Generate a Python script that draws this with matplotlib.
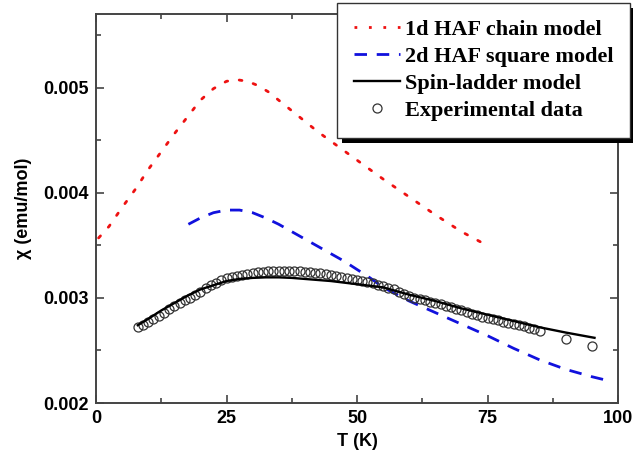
import matplotlib
matplotlib.use("Agg")
import matplotlib.pyplot as plt
from matplotlib.patches import Rectangle
from matplotlib.lines import Line2D

# ---- data ----
chain_T = [0.5, 2.5, 5, 7.5, 10, 12.5, 15, 17.5, 20, 22.5, 25, 27, 29, 31, 33, 35,
           37.5, 40, 42.5, 45, 47.5, 50, 55, 60, 65, 70, 74.5]
chain_chi = [0.00357, 0.00368, 0.00386, 0.00403, 0.00422, 0.00439, 0.00456, 0.00472,
             0.00488, 0.00499, 0.00506, 0.005075, 0.00506, 0.00502, 0.00496, 0.00488,
             0.00478, 0.00468, 0.00458, 0.00449, 0.00440, 0.00431, 0.00413, 0.00396,
             0.00379, 0.00363, 0.00351]

square_T = [17.7, 20, 22.5, 25, 27.5, 30, 32.5, 35, 37.5, 40, 42.5, 45, 47.5, 50,
            52.5, 55, 60, 65, 70, 75, 80, 85, 90, 95, 97.5]
square_chi = [0.00370, 0.00376, 0.00381, 0.003835, 0.003835, 0.00381, 0.00376, 0.00370,
              0.00363, 0.00356, 0.00349, 0.00342, 0.00335, 0.00327, 0.00319, 0.00310,
              0.00297, 0.00286, 0.00275, 0.00264, 0.00252, 0.00241, 0.00232, 0.00225,
              0.00222]

ladder_T = [8, 10, 12.5, 15, 17.5, 20, 22.5, 25, 27.5, 30, 32.5, 35, 37.5, 40, 45, 50,
            55, 60, 65, 70, 75, 80, 85, 90, 95.5]
ladder_chi = [0.00274, 0.00280, 0.00288, 0.00295, 0.00302, 0.00308, 0.00312, 0.00316,
              0.00318, 0.00319, 0.003195, 0.003195, 0.00319, 0.00318, 0.00316, 0.00313,
              0.00310, 0.00303, 0.00297, 0.00290, 0.00284, 0.00278, 0.00272, 0.00267,
              0.00262]

exp_T = [8, 9, 10, 11, 12, 13, 14, 15, 16, 17, 18, 19, 20, 21, 22, 23, 24, 25, 26, 27,
         28, 29, 30, 31, 32, 33, 34, 35, 36, 37, 38, 39, 40, 41, 42, 43, 44, 45, 46, 47,
         48, 49, 50, 51, 52, 53, 54, 55, 56, 57, 58, 59, 60, 61, 62, 63, 64, 65, 66, 67,
         68, 69, 70, 71, 72, 73, 74, 75, 76, 77, 78, 79, 80, 81, 82, 83, 84, 85, 90, 95]
exp_chi = [0.00272, 0.002745, 0.00277, 0.00280, 0.00283, 0.00286, 0.00289, 0.00292,
           0.00295, 0.002975, 0.00300, 0.00303, 0.00306, 0.00309, 0.00312, 0.003145,
           0.00317, 0.003185, 0.00320, 0.00321, 0.00322, 0.00323, 0.00324, 0.003245,
           0.00325, 0.003255, 0.00326, 0.00326, 0.00326, 0.00326, 0.00326, 0.003255,
           0.00325, 0.003245, 0.00324, 0.003235, 0.00323, 0.00322, 0.00321, 0.00320,
           0.00319, 0.00318, 0.00317, 0.00316, 0.00315, 0.00314, 0.003125, 0.00311,
           0.003095, 0.00308, 0.00306, 0.00304, 0.00302, 0.00300, 0.00299, 0.002975,
           0.00296, 0.00295, 0.00294, 0.002925, 0.00291, 0.002895, 0.00288, 0.002865,
           0.00285, 0.002835, 0.00282, 0.00281, 0.00280, 0.002785, 0.00277, 0.00276,
           0.00275, 0.00274, 0.00273, 0.00271, 0.00270, 0.002685, 0.00261, 0.00254]

labels = ["1d HAF chain model", "2d HAF square model", "Spin-ladder model",
          "Experimental data"]
x_ticks = [0, 25, 50, 75, 100]
y_ticks = [0.002, 0.003, 0.004, 0.005]

# ---- figure ----
fig = plt.figure(figsize=(6.33, 4.62), dpi=100)
ax = fig.add_axes([96 / 633, 59 / 462, 522 / 633, 389 / 462])

spine_col = "#444444"
ax.plot(chain_T, chain_chi, color="#ee1111", lw=2.0, linestyle=(0, (1.0, 4.2)),
        dash_capstyle="round")
ax.plot(square_T, square_chi, color="#1111dd", lw=2.0, linestyle=(0, (4.5, 3.5)))
ax.plot(exp_T, exp_chi, linestyle="none", marker="o", markersize=6.5,
        markerfacecolor="none", markeredgecolor="#333333", markeredgewidth=0.9)
ax.plot(ladder_T, ladder_chi, color="black", lw=1.7)

ax.set_xlim(0, 100)
ax.set_ylim(0.002, 0.0057)
ax.set_xticks(x_ticks)
ax.set_xticks([12.5, 37.5, 62.5, 87.5], minor=True)
ax.set_yticks(y_ticks)
ax.set_yticks([0.0025, 0.0035, 0.0045, 0.0055], minor=True)
ax.set_xticklabels([str(v) for v in x_ticks])
ax.set_yticklabels([f"{v:.3f}" for v in y_ticks])

tick_font = dict(family="Liberation Sans", weight="bold", size=13)
for lab in ax.get_xticklabels() + ax.get_yticklabels():
    lab.set_fontfamily("Liberation Sans")
    lab.set_fontweight("bold")
    lab.set_fontsize(13)

ax.tick_params(which="both", direction="in", top=True, right=True, color=spine_col,
               width=1.2)
ax.tick_params(which="major", length=6, pad=5)
ax.tick_params(which="minor", length=3.5)
for s in ax.spines.values():
    s.set_color(spine_col)
    s.set_linewidth(1.4)

ax.set_xlabel("T (K)", **tick_font, labelpad=4)
ax.set_ylabel("χ (emu/mol)", **tick_font, labelpad=8)

handles = [
    Line2D([], [], color="#ee1111", lw=2.0, linestyle=(0, (1.0, 4.2))),
    Line2D([], [], color="#1111dd", lw=2.0, linestyle=(0, (4.5, 3.5))),
    Line2D([], [], color="black", lw=1.7),
    Line2D([], [], linestyle="none", marker="o", markersize=6.5, markerfacecolor="none",
           markeredgecolor="#333333", markeredgewidth=0.9),
]
leg = fig.legend(handles, labels, loc="upper left",
                 bbox_to_anchor=(337 / 633, 1 - 3 / 462),
                 prop=dict(family="Liberation Serif", weight="bold", size=16),
                 frameon=True, fancybox=False, edgecolor="#333333",
                 facecolor="white", framealpha=1.0,
                 handlelength=2.1, handletextpad=0.2, labelspacing=0.29,
                 borderpad=0.75, borderaxespad=0)
leg.get_frame().set_linewidth(1.0)
leg.set_zorder(10)

fig.canvas.draw()
bb = leg.get_window_extent()
shadow = Rectangle((bb.x0 + 5, bb.y0 - 5), bb.width, bb.height, transform=None,
                   facecolor="black", edgecolor="none", zorder=9)
fig.patches.append(shadow)

fig.savefig("out.png", dpi=100)
